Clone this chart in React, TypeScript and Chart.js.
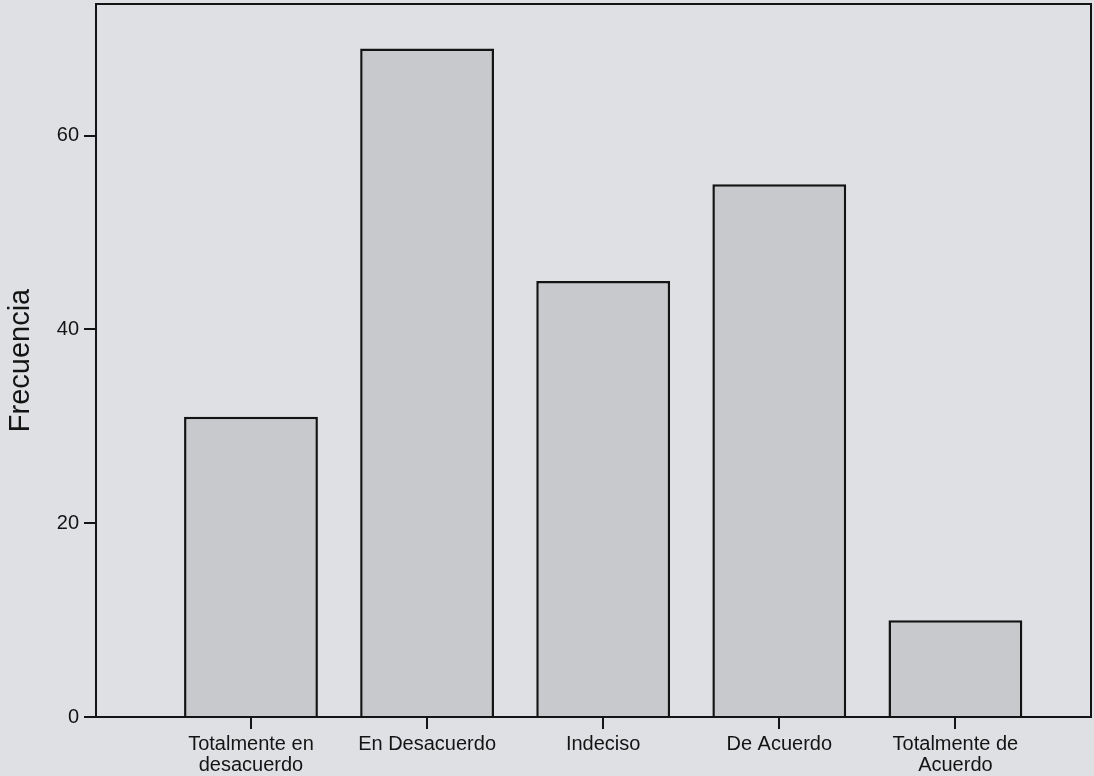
import React, { useEffect, useRef } from "react";
import { Chart, registerables } from "chart.js";

Chart.register(...registerables);

// ---- data ----
const categories: string[][] = [
  ["Totalmente en", "desacuerdo"],
  ["En Desacuerdo"],
  ["Indeciso"],
  ["De Acuerdo"],
  ["Totalmente de", "Acuerdo"],
];
const frequencies: number[] = [31, 69, 45, 55, 10];
const yTickValues: number[] = [0, 20, 40, 60];
const yAxisTitle = "Frecuencia";

const INK = "#141414";
const FONT = "'Liberation Sans', Arial, sans-serif";

const framePlugin = {
  id: "frame",
  afterDraw(chart: any) {
    const { ctx, chartArea } = chart;
    const { left, top, right, bottom } = chartArea;
    ctx.save();
    ctx.strokeStyle = INK;
    ctx.lineWidth = 2;
    ctx.strokeRect(left, top, right - left, bottom - top);
    ctx.restore();
  },
};

export default function App() {
  const ref = useRef<HTMLCanvasElement | null>(null);

  useEffect(() => {
    if (!ref.current) return;
    const data = categories.map((_, i) => ({ x: i + 1, y: frequencies[i] }));
    const chart = new Chart(ref.current, {
      type: "bar",
      data: {
        datasets: [
          {
            data: data as any,
            backgroundColor: "#c8c9cc",
            borderColor: INK,
            borderWidth: 2.5,
            barPercentage: 0.76,
            categoryPercentage: 1,
          },
        ],
      },
      options: {
        responsive: false,
        animation: false,
        layout: { padding: { top: 4, right: 3, left: 0, bottom: 0 } },
        plugins: {
          legend: { display: false },
          tooltip: { enabled: false },
        },
        scales: {
          x: {
            type: "linear",
            min: 0.12,
            max: 5.77,
            offset: false,
            grid: {
              offset: false,
              drawOnChartArea: false,
              drawTicks: true,
              tickLength: 12,
              tickColor: INK,
              lineWidth: 2,
            },
            border: { display: true, color: INK, width: 2 },
            afterBuildTicks: (scale: any) => {
              scale.ticks = categories.map((_, i) => ({ value: i + 1 }));
            },
            afterFit: (scale: any) => {
              scale.height = 59;
              scale.paddingLeft = 0;
              scale.paddingRight = 0;
            },
            ticks: {
              autoSkip: false,
              maxRotation: 0,
              minRotation: 0,
              padding: 5,
              color: INK,
              font: { family: FONT, size: 20, lineHeight: 1.05 },
              callback: (value: any) => {
                const idx = Math.round(Number(value)) - 1;
                return categories[idx] ?? "";
              },
            },
          },
          y: {
            type: "linear",
            min: 0,
            max: 73.6,
            grid: {
              drawOnChartArea: false,
              drawTicks: true,
              tickLength: 12,
              tickColor: INK,
              lineWidth: 2,
            },
            border: { display: true, color: INK, width: 2 },
            afterBuildTicks: (scale: any) => {
              scale.ticks = yTickValues.map((v) => ({ value: v }));
            },
            afterFit: (scale: any) => {
              scale.width = 96;
              scale.paddingTop = 0;
              scale.paddingBottom = 0;
            },
            ticks: {
              padding: 5,
              color: INK,
              font: { family: FONT, size: 20 },
            },
            title: {
              display: true,
              text: yAxisTitle,
              color: INK,
              font: { family: FONT, size: 29 },
              padding: { top: 4, bottom: 0 },
            },
          },
        },
      },
      plugins: [framePlugin],
    });
    return () => chart.destroy();
  }, []);

  return (
    <div
      style={{
        position: "fixed",
        left: 0,
        top: 0,
        width: 1094,
        height: 776,
        background: "#dfe0e3",
      }}
    >
      <canvas ref={ref} width={1094} height={776} style={{ width: 1094, height: 776, display: "block" }} />
    </div>
  );
}
